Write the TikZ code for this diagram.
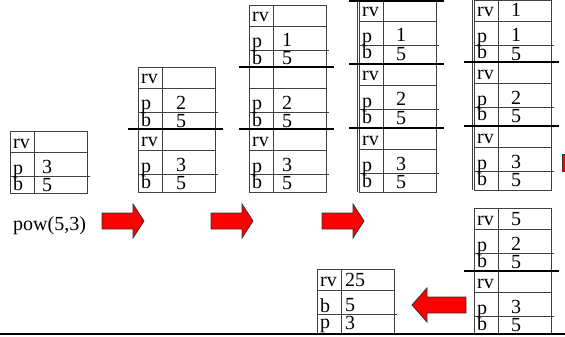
\documentclass[tikz,border=0pt]{standalone}
\usepackage{fontspec}
\setmainfont{Liberation Serif}
\tikzset{
  thinrule/.style={draw=black!75, line width=0.9pt},
  sepline/.style={draw=black, line width=2pt},
  cell/.style={inner sep=0pt, anchor=base west, font=\fontsize{20}{24}\selectfont},
  blockarrow/.style={fill=red, draw=black!80, line width=0.8pt, line join=miter},
}
% grid of one activation record: left x, top y, bottom y
\newcommand\actbox[3]{%
  \draw[thinrule] (#1,#2) rectangle (#1+77,#3);
  \draw[thinrule] (#1+24,#2) -- (#1+24,#3);
  \draw[thinrule] (#1,#2+21) -- (#1+77,#2+21);
  \draw[thinrule] (#1,#2+45) -- (#1+80,#2+45);
}
% texts of one record: name, left x, top y, then label/value of the three rows
\newcommand\valoff{12}
\newcommand\actrows[9]{%
  \node[cell] (#1-l1) at (#2+3,#3+17) {#4};
  \node[cell] (#1-v1) at (#2+24+\valoff,#3+17) {#5};
  \node[cell] (#1-l2) at (#2+3,#3+43) {#6};
  \node[cell] (#1-v2) at (#2+24+\valoff,#3+42) {#7};
  \node[cell] (#1-l3) at (#2+3,#3+59) {#8};
  \node[cell] (#1-v3) at (#2+24+\valoff,#3+60) {#9};
}
% heavy rule between stacked records: box left x, y
\newcommand\sepat[2]{\draw[sepline] (#1-10,#2) -- (#1+85,#2);}
% right-pointing block arrow: left x, centre y
\newcommand\arrowright[2]{%
  \draw[blockarrow] (#1,#2-8) -- (#1+31,#2-8) -- (#1+31,#2-17) -- (#1+42,#2)
    -- (#1+31,#2+17) -- (#1+31,#2+8) -- (#1,#2+8) -- cycle;}
% left-pointing block arrow: tip x, centre y
\newcommand\arrowleft[2]{%
  \draw[blockarrow] (#1,#2) -- (#1+15,#2-17) -- (#1+15,#2-8) -- (#1+54,#2-8)
    -- (#1+54,#2+8) -- (#1+15,#2+8) -- (#1+15,#2+17) -- cycle;}
\begin{document}
\begin{tikzpicture}[x=1pt,y=-1pt]
\useasboundingbox (0,0) rectangle (565,337);
\clip (0,0) rectangle (565,337);

% first call
\actbox{10}{131}{193}
\renewcommand\valoff{8}
\actrows{f1}{10}{131}{rv}{}{p}{3}{b}{5}
\node[cell] (call) at (13,230) {pow(5,3)};

% second column
\renewcommand\valoff{14}
\actbox{138}{67}{129}
\actbox{138}{129}{192}
\sepat{138}{129}
\actrows{f2a}{138}{67}{rv}{}{p}{2}{b}{5}
\actrows{f2b}{138}{129}{rv}{}{p}{3}{b}{5}

% third column
\renewcommand\valoff{9}
\actbox{249}{5}{67}
\actbox{249}{67}{129}
\actbox{249}{129}{192}
\sepat{249}{67}
\sepat{249}{129}
\actrows{f3a}{249}{5}{rv}{}{p}{1}{b}{5}
\actrows{f3b}{249}{67}{}{}{p}{2}{b}{5}
\actrows{f3c}{249}{129}{rv}{}{p}{3}{b}{5}

% fourth column
\renewcommand\valoff{13}
\actbox{359}{0}{64}
\actbox{359}{64}{128}
\actbox{359}{128}{192}
\draw[thinrule] (357,0) -- (357,192);
\sepat{359}{1}
\sepat{359}{64}
\sepat{359}{128}
\actrows{f4a}{359}{0}{rv}{}{p}{1}{b}{5}
\actrows{f4b}{359}{64}{rv}{}{p}{2}{b}{5}
\actrows{f4c}{359}{128}{rv}{}{p}{3}{b}{5}

% fifth column
\actbox{474}{0}{62}
\actbox{474}{62}{126}
\actbox{474}{126}{190}
\draw[thinrule] (472,0) -- (472,190);
\sepat{474}{62}
\sepat{474}{126}
\actrows{f5a}{474}{0}{rv}{1}{p}{1}{b}{5}
\actrows{f5b}{474}{62}{rv}{}{p}{2}{b}{5}
\actrows{f5c}{474}{126}{rv}{}{p}{3}{b}{5}

% returning
\actbox{474}{208}{271}
\actbox{474}{271}{334}
\sepat{474}{271}
\actrows{f6a}{474}{208}{rv}{5}{p}{2}{b}{5}
\actrows{f6b}{474}{271}{rv}{}{p}{3}{b}{5}

% result
\renewcommand\valoff{4}
\actbox{317}{269}{334}
\actrows{f7}{317}{269}{rv}{25}{b}{5}{p}{3}

% arrows
\arrowright{102}{221}
\arrowright{211}{221}
\arrowright{322}{221}
\arrowleft{412}{305}
\draw[blockarrow] (562,154) rectangle (575,171);

% base rule
\draw[line width=2.5pt] (0,334) -- (565,334);
\end{tikzpicture}
\end{document}
